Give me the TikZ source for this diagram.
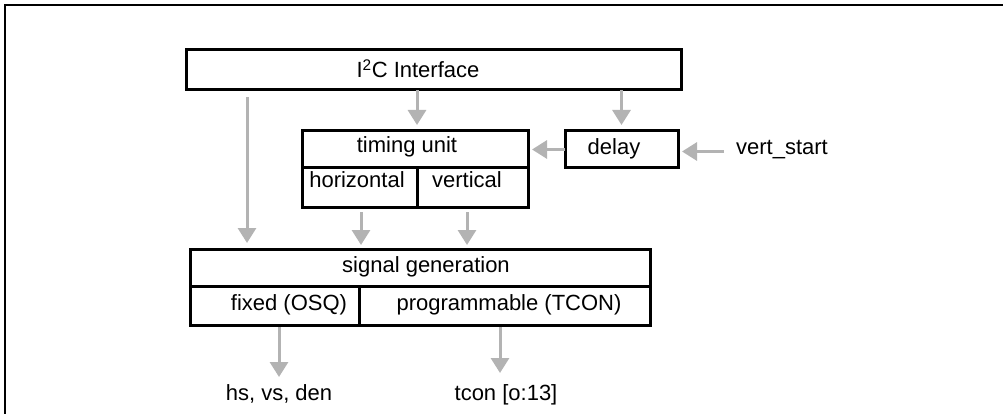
\documentclass[tikz,border=0pt]{standalone}
\usepackage{fontspec}
\setmainfont{Liberation Sans}
\usetikzlibrary{arrows.meta}
\definecolor{arrgray}{HTML}{B3B3B3}
\tikzset{
  box/.style={draw=black, line width=3pt, inner sep=0pt, outer sep=0pt, rectangle},
  lbl/.style={inner sep=0pt, outer sep=0pt, anchor=base, font=\fontsize{22}{26}\selectfont},
  arr/.style={draw=arrgray, line width=3pt, -{Triangle[length=15pt,width=18pt]}},
}
\begin{document}
\begin{tikzpicture}[x=1pt,y=-1pt]
\useasboundingbox (0,0) rectangle (1003,414);
\clip (0,0) rectangle (1003,414);
\draw[line width=2pt] (4.5,5) rectangle (1030,440);
% boxes
\node[box, minimum width=495, minimum height=40] (i2c) at (433.5,70) {};
\node[box, minimum width=226, minimum height=37] (tu) at (415,149.5) {};
\node[box, minimum width=115, minimum height=39] (hor) at (359.5,187.5) {};
\node[box, minimum width=111, minimum height=39] (ver) at (472.5,187.5) {};
\node[box, minimum width=113, minimum height=37] (delay) at (621.5,149.5) {};
\node[box, minimum width=460, minimum height=37] (sg) at (420,267.5) {};
\node[box, minimum width=169, minimum height=39] (fixed) at (274.5,305.5) {};
\node[box, minimum width=291, minimum height=39] (prog) at (504.5,305.5) {};
% texts
\node[lbl] (ti2c) at (418,78) {I\textsuperscript{2}C Interface};
\node[lbl] (ttu) at (407,153) {timing unit};
\node[lbl] (thor) at (357,188) {horizontal};
\node[lbl] (tver) at (467,187) {vertical};
\node[lbl] (tdelay) at (614,155) {delay};
\node[lbl] (vs) at (782,155) {vert\_start};
\node[lbl] (tsg) at (426,272) {signal generation};
\node[lbl] (tfixed) at (289,310) {fixed (OSQ)};
\node[lbl] (tprog) at (509,310) {programmable (TCON)};
\node[lbl] (hs) at (279,400) {hs, vs, den};
\node[lbl] (tcon) at (506,400) {tcon [o:13]};
% connectors
\coordinate (la) at (247,97);
\draw[arr, shorten >=6pt] (la) -- (la |- sg.north);
\draw[arr, shorten >=6pt] ([xshift=2pt]i2c.south -| tu.north) -- ([xshift=2pt]tu.north);
\draw[arr, shorten >=6pt] (i2c.south -| delay.north) -- (delay.north);
\draw[arr, shorten >=4pt] (delay.west) -- (tu.east);
\draw[arr, shorten <=12pt, shorten >=4pt] ([yshift=-2pt]delay.east -| vs.west) -- ([yshift=-2pt]delay.east);
\draw[arr, shorten <=5pt, shorten >=4pt] ([xshift=1.5pt]hor.south) -- ([xshift=1.5pt]hor.south |- sg.north);
\draw[arr, shorten <=5pt, shorten >=4pt] ([xshift=-5.5pt]ver.south) -- ([xshift=-5.5pt]ver.south |- sg.north);
\draw[arr, shorten <=2pt, shorten >=23pt] (fixed.south -| hs.base) -- (hs.base);
\draw[arr, shorten <=2pt, shorten >=27pt] ([xshift=-6pt]prog.south -| tcon.base) -- ([xshift=-6pt]tcon.base);
\end{tikzpicture}
\end{document}
